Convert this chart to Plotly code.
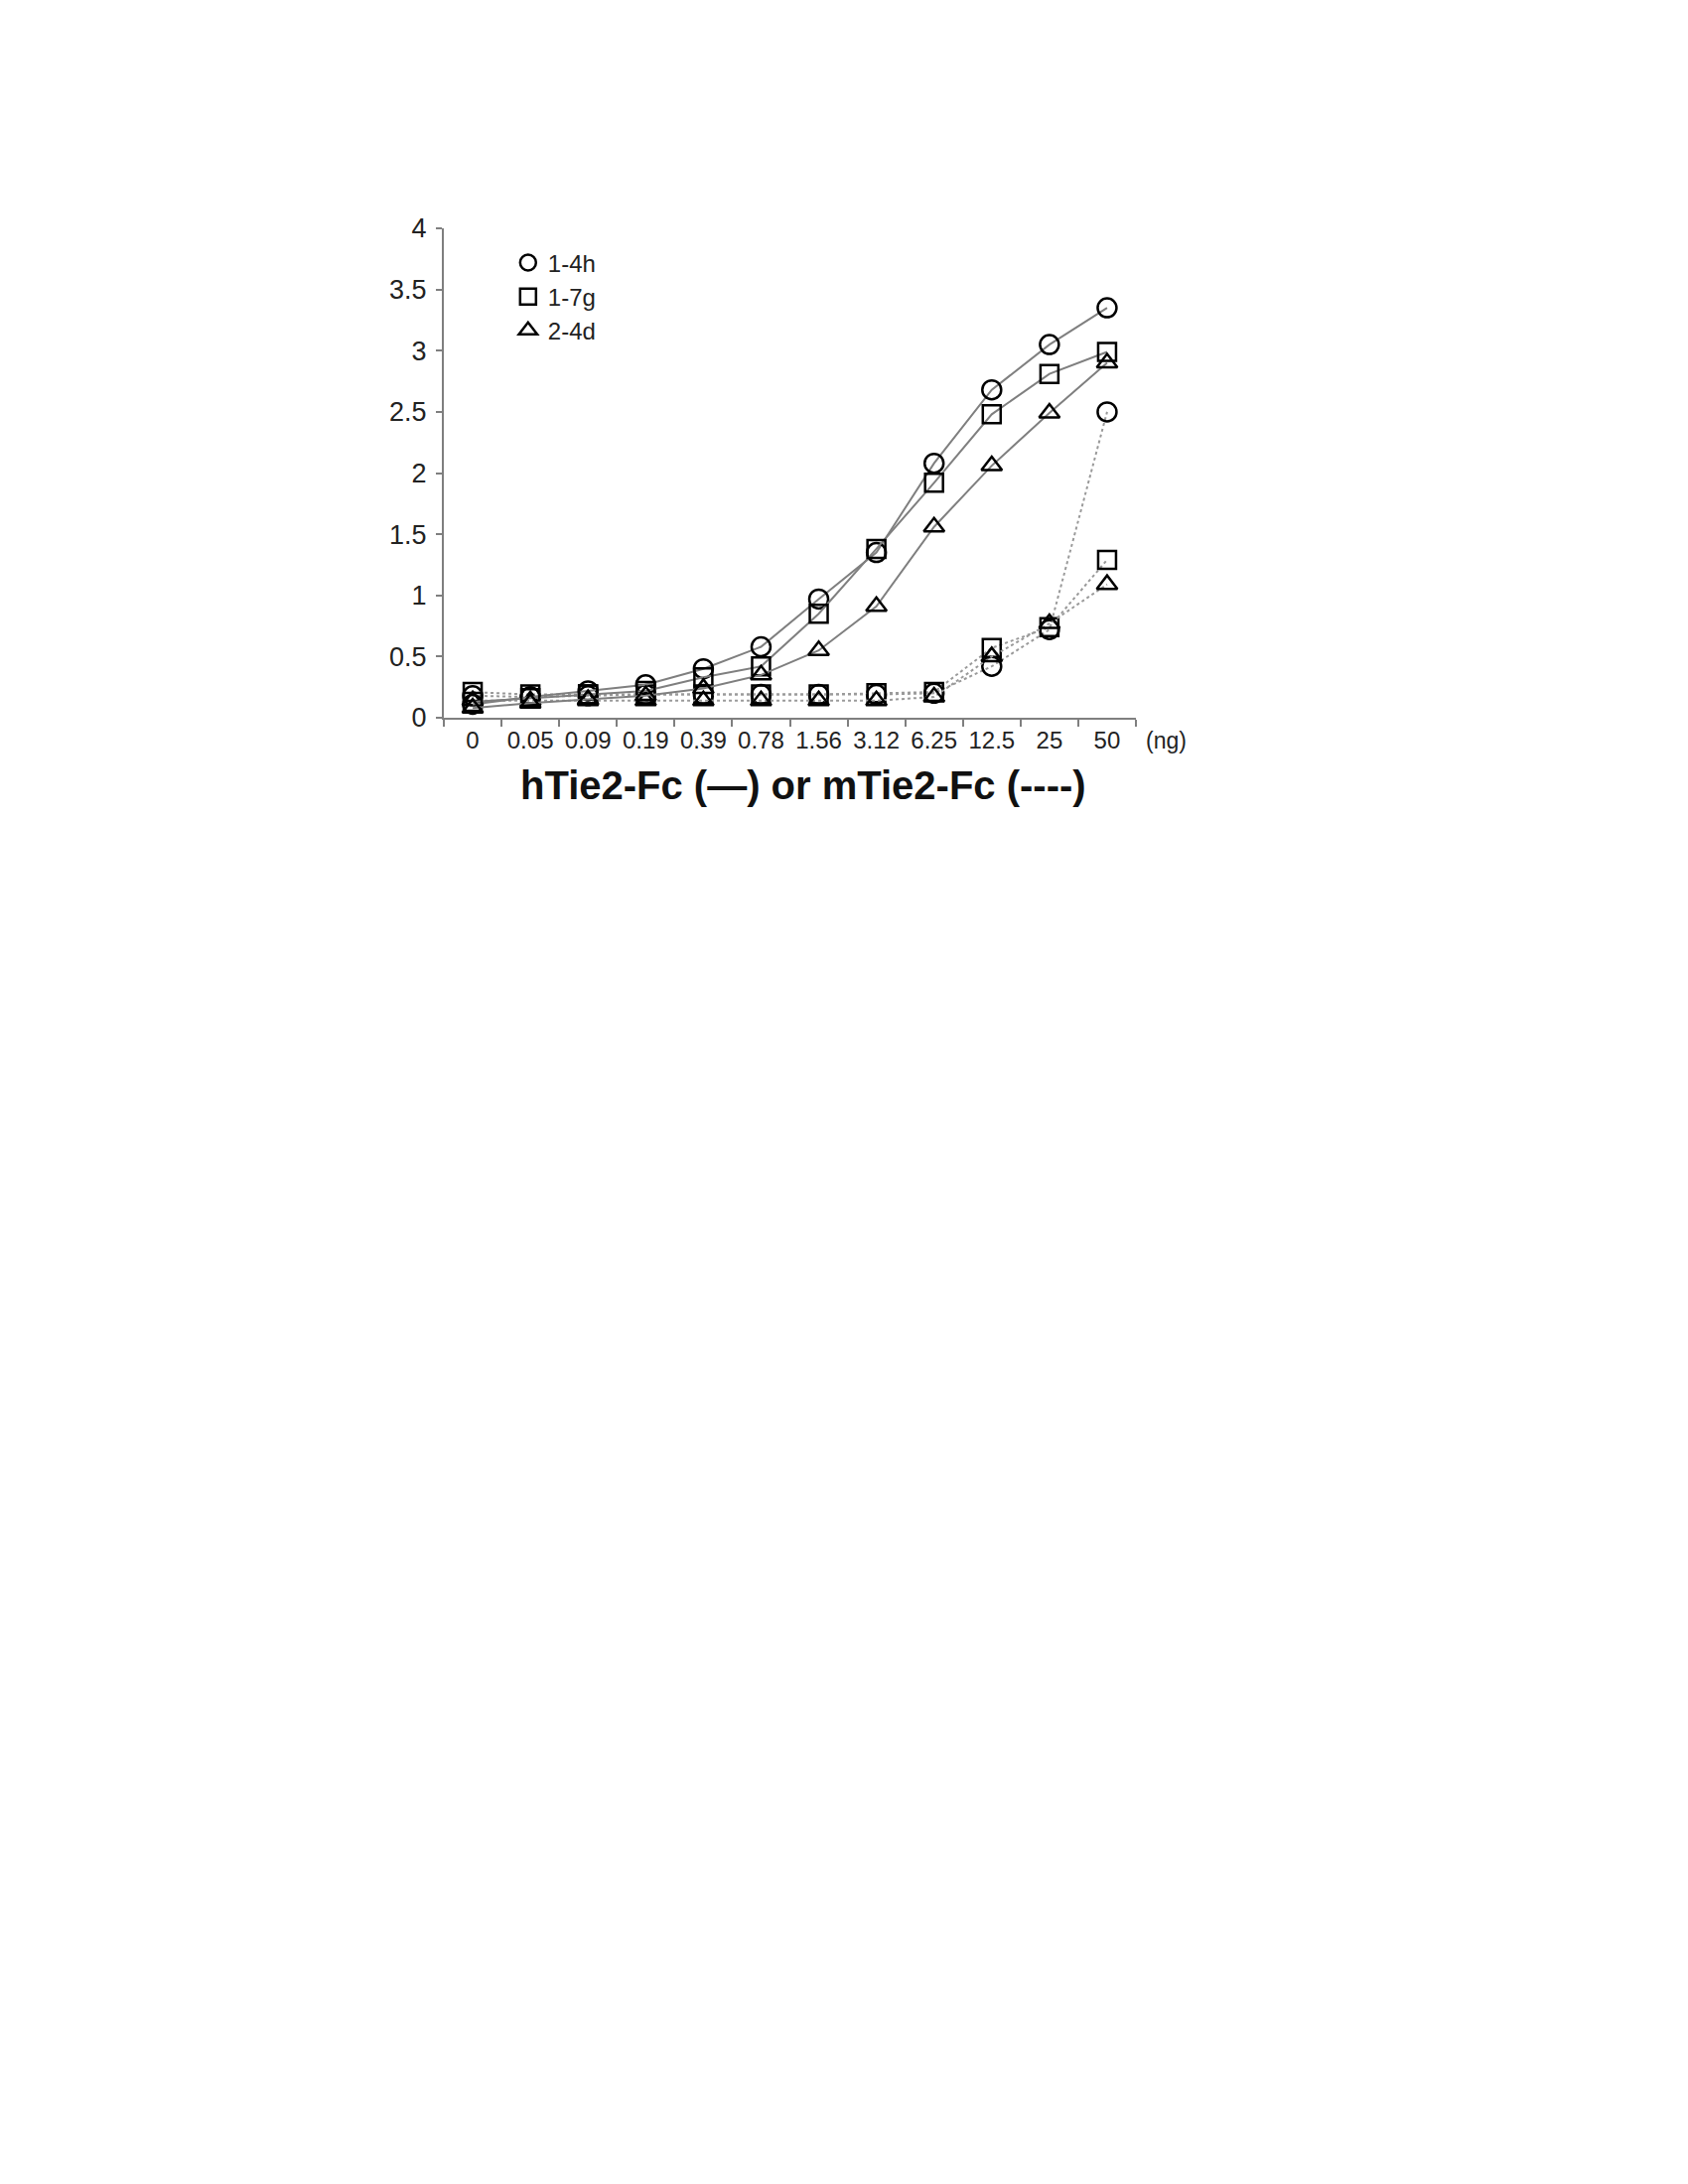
import plotly.graph_objects as go

# dosis (ng) en el eje x
dosis = ["0", "0.05", "0.09", "0.19", "0.39", "0.78", "1.56", "3.12", "6.25", "12.5", "25", "50"]

# hTie2-Fc (linea continua)
h_14h = [0.11, 0.17, 0.22, 0.27, 0.40, 0.58, 0.97, 1.35, 2.08, 2.68, 3.05, 3.35]
h_17g = [0.13, 0.16, 0.19, 0.22, 0.33, 0.42, 0.85, 1.38, 1.92, 2.48, 2.81, 2.99]
h_24d = [0.08, 0.12, 0.15, 0.18, 0.24, 0.35, 0.55, 0.91, 1.56, 2.06, 2.49, 2.90]

# mTie2-Fc (linea punteada)
m_14h = [0.18, 0.17, 0.18, 0.19, 0.19, 0.19, 0.19, 0.19, 0.20, 0.42, 0.72, 2.50]
m_17g = [0.21, 0.19, 0.19, 0.19, 0.19, 0.19, 0.19, 0.20, 0.21, 0.57, 0.74, 1.29]
m_24d = [0.14, 0.14, 0.14, 0.14, 0.14, 0.14, 0.14, 0.14, 0.17, 0.50, 0.77, 1.09]

clones = ["1-4h", "1-7g", "2-4d"]
simbolos = ["circle-open", "square-open", "triangle-up-open"]
tamanos = [19, 18, 18]

fuente = "Liberation Sans, Arial, sans-serif"
gris = "#7f7f7f"

fig = go.Figure()

series = [(m_14h, m_17g, m_24d, "dot", "#9a9a9a"), (h_14h, h_17g, h_24d, "solid", gris)]
for a, b, c, estilo, color in series:
    for valores, simbolo, tam in zip((a, b, c), simbolos, tamanos):
        fig.add_trace(go.Scatter(
            x=dosis, y=valores, mode="lines+markers",
            line=dict(color=color, width=2, dash=estilo),
            marker=dict(symbol=simbolo, size=tam, color="black",
                        line=dict(color="black", width=2.5)),
            showlegend=False))

# entradas de leyenda solo con el simbolo
for clon, simbolo, tam in zip(clones, simbolos, tamanos):
    fig.add_trace(go.Scatter(
        x=[None], y=[None], mode="markers", name=clon,
        marker=dict(symbol=simbolo, size=tam, color="black",
                    line=dict(color="black", width=2.5))))

fig.update_xaxes(
    type="category", range=[-0.5, 11.5],
    showline=True, linecolor=gris, linewidth=2,
    ticks="outside", tickson="boundaries", ticklen=7, tickcolor=gris, tickwidth=2,
    tickfont=dict(family=fuente, size=24, color="#222"),
    showgrid=False, zeroline=False)

fig.update_yaxes(
    range=[0, 4], dtick=0.5,
    showline=True, linecolor=gris, linewidth=2,
    ticks="outside", ticklen=6, tickcolor=gris, tickwidth=2,
    ticklabelstandoff=4,
    tickfont=dict(family=fuente, size=27, color="#222"),
    showgrid=False, zeroline=False)

fig.add_annotation(text="(ng)", xref="paper", yref="paper", x=1.012, y=0,
                   xanchor="left", yanchor="top", yshift=-8, showarrow=False,
                   font=dict(family=fuente, size=23, color="#222"))
fig.add_annotation(text="<b>hTie2-Fc (—) or mTie2-Fc (----)</b>", xref="paper", yref="paper",
                   x=0.52, y=0, xanchor="center", yanchor="top", yshift=-44, showarrow=False,
                   font=dict(family=fuente, size=40, color="#111"))

fig.update_layout(
    width=1700, height=2200,
    margin=dict(l=439, r=564, t=222, b=1485),
    paper_bgcolor="white", plot_bgcolor="white",
    legend=dict(x=0.093, y=0.975, xanchor="left", yanchor="top",
                font=dict(family=fuente, size=24, color="#222"),
                bgcolor="rgba(0,0,0,0)", itemwidth=30, tracegroupgap=0),
    font=dict(family=fuente))

fig.write_html("out.html")
